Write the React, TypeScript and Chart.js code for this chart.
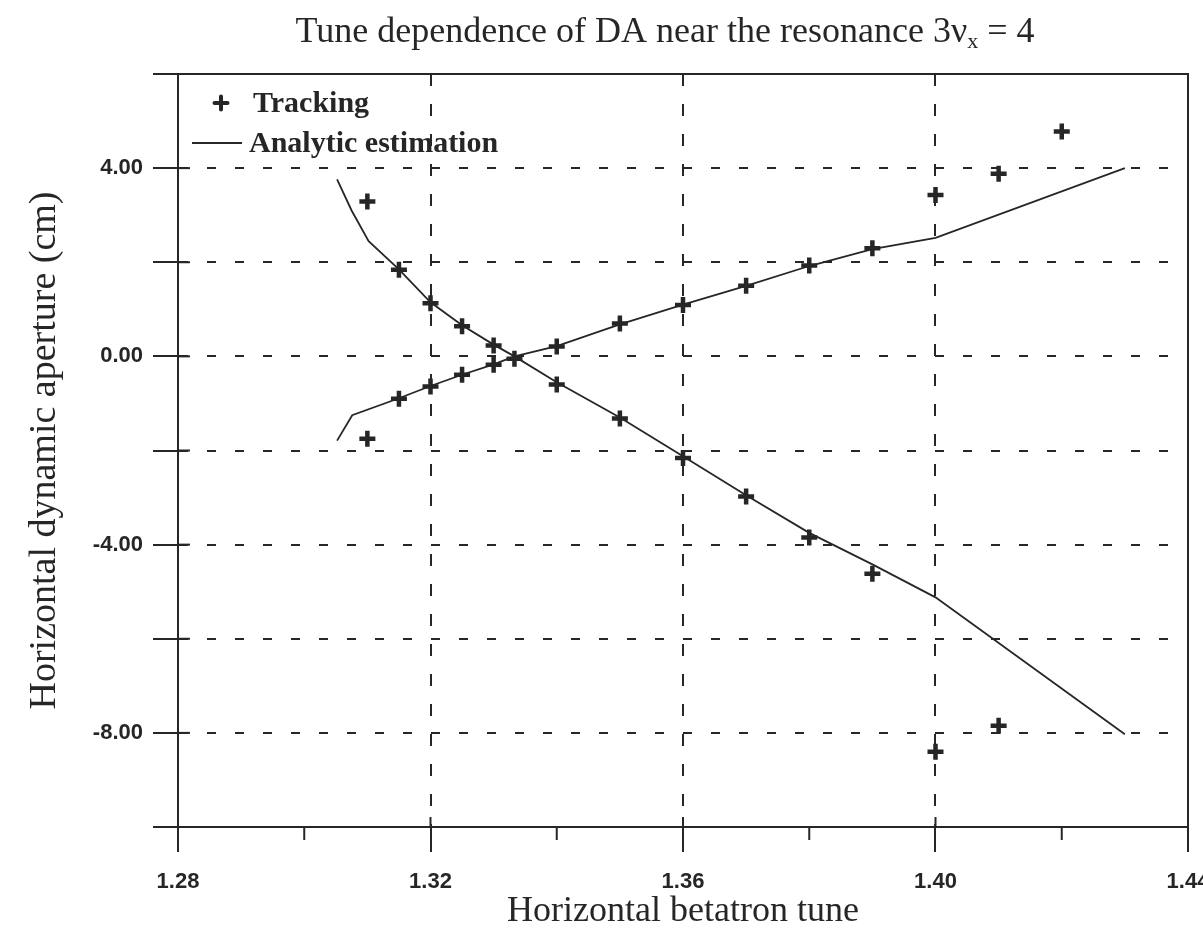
import React, { useEffect, useRef } from "react";
import { Chart, registerables } from "chart.js";

Chart.register(...registerables);

// ---- data ----
const tuneTracking = [
  1.31, 1.315, 1.32, 1.325, 1.33, 1.3333, 1.34, 1.35, 1.36, 1.37, 1.38, 1.39, 1.4, 1.41, 1.42,
  1.31, 1.315, 1.32, 1.325, 1.33, 1.34, 1.35, 1.36, 1.37, 1.38, 1.39, 1.4, 1.41,
];
const daTracking = [
  3.29, 1.84, 1.13, 0.64, 0.23, -0.05, 0.21, 0.7, 1.09, 1.5, 1.93, 2.3, 3.43, 3.88, 4.78,
  -1.75, -0.9, -0.64, -0.39, -0.18, -0.6, -1.32, -2.16, -2.98, -3.85, -4.62, -8.4, -7.85,
];

const tuneAnalyticA = [1.3052, 1.3075, 1.3102, 1.315, 1.32, 1.325, 1.33, 1.3333, 1.34, 1.35, 1.36, 1.37, 1.38, 1.39, 1.4, 1.43];
const daAnalyticA = [3.76, 3.1, 2.45, 1.85, 1.15, 0.66, 0.25, 0.0, -0.55, -1.3, -2.12, -2.95, -3.75, -4.42, -5.12, -8.03];

const tuneAnalyticB = [1.3052, 1.3076, 1.315, 1.32, 1.325, 1.33, 1.3333, 1.34, 1.35, 1.36, 1.37, 1.38, 1.39, 1.4, 1.43];
const daAnalyticB = [-1.79, -1.25, -0.89, -0.63, -0.39, -0.17, 0.0, 0.22, 0.68, 1.1, 1.5, 1.92, 2.28, 2.52, 4.0];

const xLabeledTicks = [1.28, 1.32, 1.36, 1.4, 1.44];
const xGridTicks = [1.32, 1.36, 1.4];
const xMinorTicks = [1.3, 1.34, 1.38, 1.42];
const yLabeledTicks = [4, 0, -4, -8];

const titleMain = "Tune dependence of DA near the resonance 3\u03BD";
const titleSub = "x";
const titleEnd = " = 4";
const xTitle = "Horizontal betatron tune";
const yTitle = "Horizontal dynamic aperture (cm)";
const trackingLabel = "Tracking";
const analyticLabel = "Analytic estimation";

const INK = "#262626";
const SERIF = '"Liberation Serif", "Times New Roman", serif';
const SANS = '"Liberation Sans", Arial, sans-serif';

const near = (v: number, list: number[]) => list.some((t) => Math.abs(t - v) < 1e-6);

const decorPlugin = {
  id: "decor",
  afterDraw(chart: any) {
    const ctx = chart.ctx as CanvasRenderingContext2D;
    const area = chart.chartArea;
    const xs = chart.scales.x;
    const ys = chart.scales.y;
    ctx.save();
    ctx.strokeStyle = INK;
    ctx.fillStyle = INK;

    // frame
    ctx.lineWidth = 2;
    ctx.setLineDash([]);
    ctx.strokeRect(area.left, area.top, area.right - area.left, area.bottom - area.top);

    // minor x ticks
    ctx.lineWidth = 2;
    xMinorTicks.forEach((v) => {
      const px = xs.getPixelForValue(v);
      ctx.beginPath();
      ctx.moveTo(px, area.bottom);
      ctx.lineTo(px, area.bottom + 13);
      ctx.stroke();
    });
    // inward parts of major ticks
    xGridTicks.forEach((v) => {
      const px = xs.getPixelForValue(v);
      ctx.beginPath();
      ctx.moveTo(px, area.bottom - 10);
      ctx.lineTo(px, area.bottom);
      ctx.stroke();
    });
    for (let v = -8; v <= 4; v += 2) {
      const py = ys.getPixelForValue(v);
      ctx.beginPath();
      ctx.moveTo(area.left, py);
      ctx.lineTo(area.left + 12, py);
      ctx.stroke();
    }

    // title
    ctx.textBaseline = "alphabetic";
    ctx.textAlign = "left";
    ctx.font = `36px ${SERIF}`;
    const w1 = ctx.measureText(titleMain).width;
    const w3 = ctx.measureText(titleEnd).width;
    ctx.font = `22px ${SERIF}`;
    const w2 = ctx.measureText(titleSub).width;
    const total = w1 + w2 + w3;
    let tx = 665 - total / 2;
    const ty = 42;
    ctx.font = `36px ${SERIF}`;
    ctx.fillText(titleMain, tx, ty);
    tx += w1;
    ctx.font = `22px ${SERIF}`;
    ctx.fillText(titleSub, tx, ty + 6);
    tx += w2;
    ctx.font = `36px ${SERIF}`;
    ctx.fillText(titleEnd, tx, ty);

    // legend
    const ds = chart.data.datasets;
    ctx.font = `bold 30px ${SERIF}`;
    ctx.textBaseline = "middle";
    ctx.lineWidth = 4;
    ctx.lineCap = "round";
    const cx = 221, cy = 103, r = 6.5;
    ctx.beginPath();
    ctx.moveTo(cx - r, cy);
    ctx.lineTo(cx + r, cy);
    ctx.moveTo(cx, cy - r);
    ctx.lineTo(cx, cy + r);
    ctx.stroke();
    ctx.lineCap = "butt";
    ctx.fillText(ds[2].label, 253, cy + 1);
    ctx.lineWidth = 2;
    ctx.beginPath();
    ctx.moveTo(192, 143);
    ctx.lineTo(242, 143);
    ctx.stroke();
    ctx.fillText(ds[0].label, 249, 144);

    ctx.restore();
  },
};

export default function App() {
  const ref = useRef<HTMLCanvasElement | null>(null);

  useEffect(() => {
    if (!ref.current) return;
    const toPts = (xs: number[], ys: number[]) => xs.map((x, i) => ({ x, y: ys[i] }));

    const chart = new Chart(ref.current, {
      type: "scatter",
      data: {
        datasets: [
          {
            label: analyticLabel,
            data: toPts(tuneAnalyticA, daAnalyticA),
            showLine: true,
            borderColor: INK,
            borderWidth: 1.8,
            pointRadius: 0,
            tension: 0,
          },
          {
            label: analyticLabel,
            data: toPts(tuneAnalyticB, daAnalyticB),
            showLine: true,
            borderColor: INK,
            borderWidth: 1.8,
            pointRadius: 0,
            tension: 0,
          },
          {
            label: trackingLabel,
            data: toPts(tuneTracking, daTracking),
            showLine: false,
            pointStyle: "cross",
            pointRadius: 8,
            pointBorderWidth: 4.5,
            borderColor: INK,
            backgroundColor: INK,
          },
        ],
      },
      options: {
        animation: false,
        responsive: false,
        maintainAspectRatio: false,
        layout: { padding: { left: 0, right: 15, top: 74, bottom: 0 } },
        plugins: {
          legend: { display: false },
          title: { display: false },
          tooltip: { enabled: false },
        },
        scales: {
          x: {
            type: "linear",
            min: 1.28,
            max: 1.44,
            afterFit: (s: any) => {
              s.height = 103;
              s.paddingLeft = 0;
              s.paddingRight = 0;
            },
            ticks: {
              stepSize: 0.02,
              autoSkip: false,
              maxRotation: 0,
              padding: 17,
              color: INK,
              font: { family: SANS, size: 22, weight: "bold" },
              callback: (v: any) => (near(Number(v), xLabeledTicks) ? Number(v).toFixed(2) : ""),
            },
            grid: {
              color: (c: any) => (c.tick && near(c.tick.value, xGridTicks) ? INK : "rgba(0,0,0,0)"),
              lineWidth: 2,
              tickLength: 25,
              tickWidth: 2,
              tickColor: (c: any) => (c.tick && near(c.tick.value, xLabeledTicks) ? INK : "rgba(0,0,0,0)"),
            },
            border: { display: true, color: INK, width: 2, dash: [12, 18] },
            title: {
              display: true,
              text: xTitle,
              color: INK,
              font: { family: SERIF, size: 36, lineHeight: 1.0 },
              padding: { top: 0, bottom: 0 },
            },
          },
          y: {
            type: "linear",
            min: -10,
            max: 6,
            afterFit: (s: any) => {
              s.width = 178;
              s.paddingTop = 0;
              s.paddingBottom = 0;
            },
            ticks: {
              stepSize: 2,
              autoSkip: false,
              padding: 10,
              color: INK,
              font: { family: SANS, size: 22, weight: "bold" },
              callback: (v: any) => (near(Number(v), yLabeledTicks) ? Number(v).toFixed(2) : ""),
            },
            grid: {
              color: (c: any) =>
                c.tick && (Math.abs(c.tick.value - 6) < 1e-6 || Math.abs(c.tick.value + 10) < 1e-6)
                  ? "rgba(0,0,0,0)"
                  : INK,
              lineWidth: 2,
              tickLength: 25,
              tickWidth: 2,
              tickColor: INK,
            },
            border: { display: true, color: INK, width: 2, dash: [9, 19] },
            title: {
              display: true,
              text: yTitle,
              color: INK,
              font: { family: SERIF, size: 38, lineHeight: 1.0 },
              padding: { top: 26, bottom: 0 },
            },
          },
        },
      },
      plugins: [decorPlugin],
    });
    return () => chart.destroy();
  }, []);

  return (
    <div style={{ position: "fixed", left: 0, top: 0, width: 1203, height: 930, background: "#ffffff" }}>
      <canvas ref={ref} width={1203} height={930} style={{ width: 1203, height: 930, display: "block" }} />
    </div>
  );
}
